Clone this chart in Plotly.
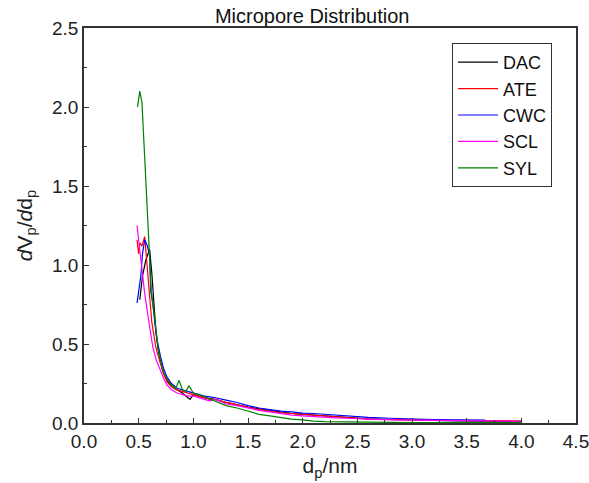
import plotly.graph_objects as go

dac_x = [0.51, 0.535, 0.565, 0.585, 0.60, 0.62, 0.64, 0.66, 0.68, 0.70, 0.73, 0.76, 0.80, 0.85, 0.90,
         0.95, 0.97, 1.00, 1.05, 1.10, 1.15, 1.20, 1.30, 1.40, 1.50, 1.60, 1.70, 1.80, 1.90, 2.00,
         2.10, 2.20, 2.30, 2.40, 2.50, 2.60, 2.80, 3.00, 3.20, 3.40, 3.60, 3.80, 4.00]
dac_y = [0.78, 0.93, 1.03, 1.08, 1.10, 0.95, 0.72, 0.56, 0.46, 0.38, 0.31, 0.27, 0.23, 0.21, 0.19,
         0.16, 0.15, 0.18, 0.17, 0.16, 0.155, 0.15, 0.13, 0.115, 0.10, 0.09, 0.08, 0.07, 0.06, 0.055,
         0.05, 0.045, 0.04, 0.035, 0.03, 0.027, 0.022, 0.018, 0.016, 0.014, 0.012, 0.011, 0.010]

ate_x = [0.485, 0.50, 0.51, 0.53, 0.555, 0.57, 0.58, 0.60, 0.62, 0.64, 0.66, 0.68, 0.70, 0.73, 0.76,
         0.80, 0.85, 0.90, 0.95, 1.00, 1.05, 1.10, 1.15, 1.20, 1.30, 1.40, 1.50, 1.60, 1.70, 1.80,
         1.90, 2.00, 2.10, 2.20, 2.30, 2.40, 2.50, 2.60, 2.80, 3.00, 3.20, 3.40, 3.60, 3.80, 4.00]
ate_y = [1.16, 1.07, 1.14, 1.12, 1.18, 1.05, 0.97, 0.78, 0.64, 0.55, 0.47, 0.42, 0.37, 0.31, 0.26,
         0.23, 0.21, 0.20, 0.19, 0.18, 0.17, 0.16, 0.15, 0.15, 0.13, 0.115, 0.10, 0.085, 0.075, 0.065,
         0.06, 0.055, 0.05, 0.045, 0.04, 0.035, 0.028, 0.025, 0.022, 0.02, 0.018, 0.016, 0.015, 0.013, 0.012]

cwc_x = [0.485, 0.50, 0.52, 0.535, 0.555, 0.58, 0.60, 0.61, 0.63, 0.65, 0.67, 0.70, 0.73, 0.76, 0.80,
         0.85, 0.90, 0.95, 1.00, 1.05, 1.10, 1.15, 1.20, 1.30, 1.40, 1.50, 1.60, 1.70, 1.80, 1.90,
         2.00, 2.10, 2.20, 2.30, 2.40, 2.50, 2.60, 2.80, 3.00, 3.20, 3.40, 3.60, 3.67]
cwc_y = [0.76, 0.84, 0.93, 1.07, 1.16, 1.12, 1.06, 0.84, 0.75, 0.62, 0.52, 0.42, 0.34, 0.29, 0.25,
         0.22, 0.21, 0.20, 0.19, 0.18, 0.17, 0.165, 0.16, 0.145, 0.13, 0.11, 0.095, 0.085, 0.075, 0.07,
         0.062, 0.06, 0.055, 0.05, 0.045, 0.037, 0.035, 0.03, 0.025, 0.022, 0.02, 0.019, 0.018]

scl_x = [0.485, 0.50, 0.525, 0.555, 0.60, 0.63, 0.66, 0.70, 0.73, 0.76, 0.80, 0.85, 0.90, 0.95, 1.00,
         1.05, 1.10, 1.15, 1.20, 1.30, 1.40, 1.50, 1.60, 1.70, 1.80, 1.90, 2.00, 2.10, 2.20, 2.30,
         2.40, 2.50, 2.60, 2.80, 3.00, 3.20, 3.40, 3.60, 3.80, 4.00]
scl_y = [1.25, 1.16, 1.01, 0.82, 0.61, 0.48, 0.40, 0.33, 0.28, 0.24, 0.21, 0.19, 0.18, 0.17, 0.17,
         0.16, 0.15, 0.14, 0.15, 0.12, 0.11, 0.095, 0.08, 0.07, 0.06, 0.05, 0.045, 0.04, 0.035, 0.032,
         0.03, 0.027, 0.024, 0.02, 0.018, 0.016, 0.015, 0.013, 0.012, 0.011]

syl_x = [0.49, 0.51, 0.53, 0.545, 0.56, 0.575, 0.585, 0.60, 0.615, 0.64, 0.66, 0.68, 0.70, 0.73, 0.76,
         0.80, 0.84, 0.87, 0.90, 0.93, 0.96, 1.00, 1.05, 1.10, 1.15, 1.20, 1.30, 1.40, 1.50, 1.60,
         1.70, 1.80, 1.90, 2.00, 2.10, 2.20, 2.40, 2.60, 2.80, 3.00, 3.50, 4.00]
syl_y = [2.00, 2.10, 2.03, 1.82, 1.61, 1.44, 1.27, 1.14, 0.84, 0.70, 0.56, 0.46, 0.39, 0.32, 0.28,
         0.24, 0.22, 0.27, 0.21, 0.20, 0.235, 0.19, 0.18, 0.165, 0.15, 0.14, 0.11, 0.095, 0.075, 0.055,
         0.045, 0.035, 0.025, 0.02, 0.012, 0.009, 0.006, 0.005, 0.004, 0.003, 0.003, 0.003]

series = [
    ("DAC", dac_x, dac_y, "#000000"),
    ("ATE", ate_x, ate_y, "#ff0000"),
    ("CWC", cwc_x, cwc_y, "#0000ff"),
    ("SCL", scl_x, scl_y, "#ff00ff"),
    ("SYL", syl_x, syl_y, "#008000"),
]

FONT = "Liberation Sans, Arial, sans-serif"

fig = go.Figure()
for name, xs, ys, color in series:
    fig.add_trace(go.Scatter(x=xs, y=ys, mode="lines", name=name,
                             line=dict(color=color, width=1.2)))

axis_style = dict(
    showline=True, linecolor="#333333", linewidth=1.5, mirror=True,
    ticks="inside", ticklen=5, tickcolor="#333333", tickwidth=1.2,
    showgrid=False, zeroline=False, automargin=False, ticklabeloverflow="allow",
    tickfont=dict(family=FONT, size=19, color="#222222"),
    minor=dict(ticks="inside", ticklen=3, tickcolor="#333333", dtick=0.25),
)

fig.update_xaxes(range=[0, 4.5], dtick=0.5, tickformat=".1f",
                 title=dict(text="d<sub>p</sub>/nm", font=dict(family=FONT, size=21, color="#222222"),
                            standoff=8),
                 **axis_style)
fig.update_yaxes(range=[0, 2.5], dtick=0.5, tickformat=".1f",
                 title=dict(text="<i>d</i>V<sub>p</sub>/<i>d</i>d<sub>p</sub>",
                            font=dict(family=FONT, size=21, color="#222222"), standoff=14),
                 **axis_style)

fig.update_layout(
    width=589, height=483,
    margin=dict(l=84, r=13, t=28, b=60),
    plot_bgcolor="white", paper_bgcolor="white",
    title=dict(text="Micropore Distribution", x=0.53, xanchor="center",
               yref="container", y=0.967, yanchor="middle",
               font=dict(family=FONT, size=20, color="#111111")),
    legend=dict(x=0.748, y=0.962, xanchor="left", yanchor="top",
                bordercolor="#333333", borderwidth=1, bgcolor="white",
                font=dict(family=FONT, size=18, color="#111111"),
                itemwidth=40, tracegroupgap=0),
    showlegend=True,
)

# niente margine del body, cosi' il grafico parte da (0, 0) come il riferimento
fig.write_html("out.html", config={"displayModeBar": False},
               post_script="document.body.style.margin='0';")
